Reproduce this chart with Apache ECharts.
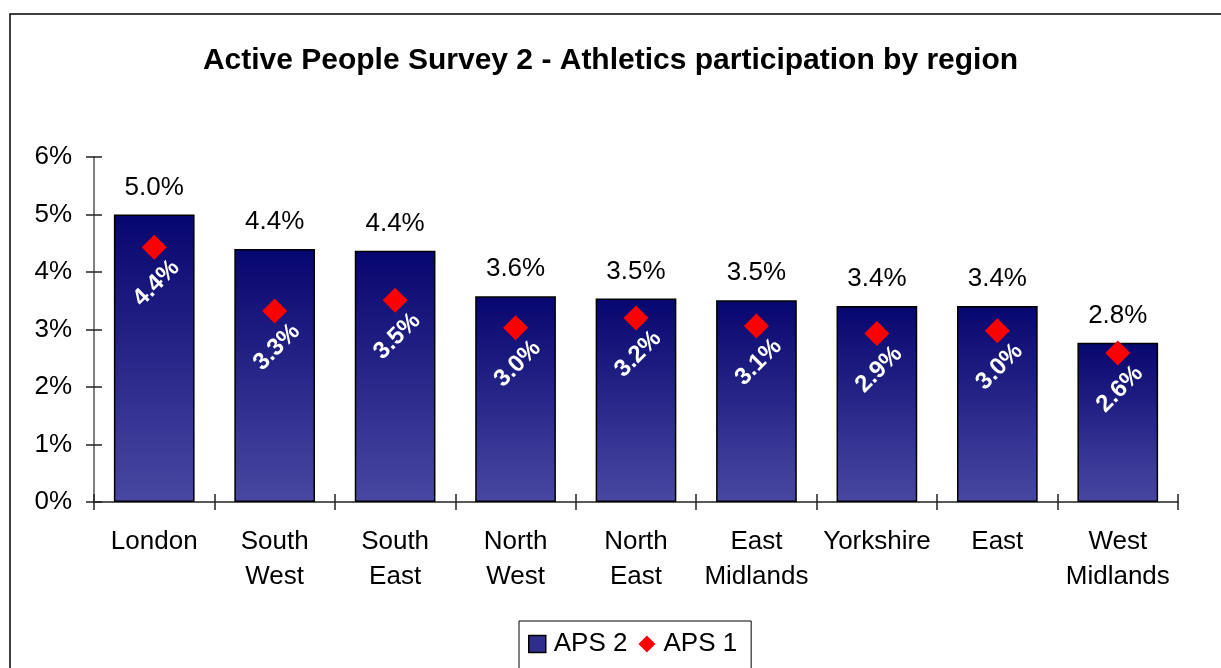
<!DOCTYPE html>
<html>
<head>
<meta charset="utf-8">
<script src="https://cdn.jsdelivr.net/npm/echarts@6/dist/echarts.min.js"></script>
<style>html,body{margin:0;padding:0;background:#fff}#c{width:1221px;height:668px}</style>
</head>
<body>
<div id="c"></div>
<script>
const categories = ['London', 'South\nWest', 'South\nEast', 'North\nWest', 'North\nEast', 'East\nMidlands', 'Yorkshire', 'East', 'West\nMidlands'];
const aps2 = [5.0, 4.4, 4.37, 3.58, 3.54, 3.51, 3.41, 3.41, 2.77];
const aps1 = [4.43, 3.32, 3.51, 3.03, 3.2, 3.06, 2.93, 2.98, 2.59];
const yTicks = { min: 0, max: 6, interval: 1 };

const FONT = '"Liberation Sans", Arial, sans-serif';
const chart = echarts.init(document.getElementById('c'));
const fmt = v => v.toFixed(1) + '%';

chart.setOption({
  animation: false,
  backgroundColor: '#fff',
  textStyle: { fontFamily: FONT },
  title: {
    text: 'Active People Survey 2 - Athletics participation by region',
    left: 'center', top: 41,
    textStyle: { fontFamily: FONT, fontSize: 30, fontWeight: 'bold', color: '#000' }
  },
  graphic: [{
    type: 'rect', shape: { x: 10, y: 14, width: 1400, height: 900 },
    style: { fill: 'none', stroke: '#000', lineWidth: 1.5 }, silent: true, z: 100
  }],
  legend: {
    left: 519, top: 621,
    padding: [10, 14, 30, 9],
    borderColor: '#000', borderWidth: 1,
    itemWidth: 17, itemHeight: 17, itemGap: 11,
    textStyle: { fontFamily: FONT, fontSize: 26, color: '#000', padding: [0, 0, 0, 3] },
    data: [
      { name: 'APS 2', icon: 'rect', itemStyle: { color: '#2e2e8c', borderColor: '#000', borderWidth: 1.5 } },
      { name: 'APS 1', icon: 'diamond', itemStyle: { color: '#ff0000', opacity: 1 } }
    ]
  },
  grid: { left: 94, right: 43, top: 157, bottom: 166, containLabel: false },
  xAxis: [{
    type: 'category', data: categories,
    axisLine: { lineStyle: { color: '#222', width: 1.5 } },
    axisTick: { show: true, length: 8, lineStyle: { color: '#222', width: 1.5 } },
    axisLabel: { fontFamily: FONT, fontSize: 26, color: '#000', margin: 22, lineHeight: 35, interval: 0 }
  }, {
    type: 'category', data: categories, position: 'bottom',
    axisLine: { show: false },
    axisTick: { show: true, inside: true, length: 8, lineStyle: { color: '#222', width: 1.5 } },
    axisLabel: { show: false }
  }],
  yAxis: [{
    type: 'value', min: yTicks.min, max: yTicks.max, interval: yTicks.interval,
    axisLine: { show: true, lineStyle: { color: '#808080', width: 2 } },
    axisTick: { show: true, length: 8, lineStyle: { color: '#222', width: 1.5 } },
    axisLabel: { fontFamily: FONT, fontSize: 26, color: '#000', margin: 22, formatter: '{value}%' },
    splitLine: { show: false }
  }, {
    type: 'value', min: yTicks.min, max: yTicks.max, interval: yTicks.interval, position: 'left',
    axisLine: { show: false },
    axisTick: { show: true, inside: true, length: 8, lineStyle: { color: '#222', width: 1.5 } },
    axisLabel: { show: false },
    splitLine: { show: false }
  }],
  series: [{
    name: 'APS 2', type: 'bar', data: aps2, barCategoryGap: '33%',
    itemStyle: {
      color: new echarts.graphic.LinearGradient(0, 0, 0, 1, [
        { offset: 0, color: '#06066f' },
        { offset: 1, color: '#4848a2' }
      ]),
      borderColor: '#000', borderWidth: 1.5
    },
    label: {
      show: true, position: 'top', distance: 14,
      fontFamily: FONT, fontSize: 26, color: '#000',
      formatter: p => fmt(p.value)
    },
    z: 2
  }, {
    name: 'APS 1', type: 'scatter', data: aps1, symbol: 'diamond', symbolSize: 25,
    itemStyle: { color: '#ff0000', opacity: 1 },
    label: {
      show: true, position: 'inside', offset: [-24, 27], rotate: 45,
      fontFamily: FONT, fontSize: 24, fontWeight: 'bold', color: '#fff',
      formatter: p => fmt(p.value)
    },
    z: 5
  }]
});
</script>
</body>
</html>
